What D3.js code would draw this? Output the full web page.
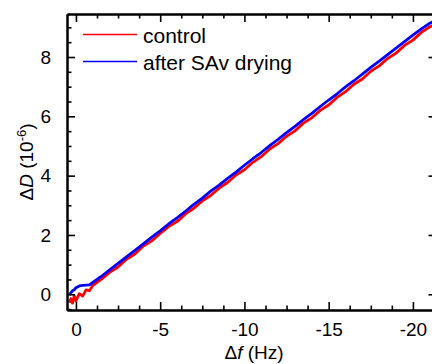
<!DOCTYPE html>
<html>
<head>
<meta charset="utf-8">
<script src="https://cdnjs.cloudflare.com/ajax/libs/d3/7.8.5/d3.min.js"></script>
<style>
    body { margin: 0; background: #fff; }
    svg { display: block; font-family: "Liberation Sans", Arial, sans-serif; }
</style>
</head>
<body>
<div id="chart"></div>
<script>

// control run (red)
var controlF = [0.4, 0.3, 0.2, 0.1, 0, -0.2, -0.4, -0.6, -0.8, -1.0, -1.5, -2, -2.5, -3, -3.5, -4, -4.5, -5, -5.5, -6, -6.5, -7, -7.5, -8, -8.5, -9, -9.5, -10, -10.5, -11, -11.5, -12, -12.5, -13, -13.5, -14, -14.5, -15, -15.5, -16, -16.5, -17, -17.5, -18, -18.5, -19, -19.5, -20, -20.5, -21, -21.3];
var controlD = [-0.28, -0.15, -0.30, -0.05, -0.22, 0.02, -0.06, 0.15, 0.12, 0.30, 0.50, 0.74, 0.92, 1.18, 1.36, 1.63, 1.80, 2.05, 2.28, 2.45, 2.71, 2.90, 3.15, 3.33, 3.58, 3.77, 4.02, 4.20, 4.45, 4.64, 4.90, 5.08, 5.33, 5.51, 5.77, 5.95, 6.20, 6.38, 6.64, 6.83, 7.08, 7.26, 7.52, 7.70, 7.95, 8.13, 8.39, 8.57, 8.83, 9.02, 9.10];

// after SAv drying (blue)
var dryF = [0.4, 0.3, 0.2, 0.1, 0, -0.2, -0.4, -0.6, -0.8, -1.0, -1.5, -2, -2.5, -3, -3.5, -4, -4.5, -5, -5.5, -6, -6.5, -7, -7.5, -8, -8.5, -9, -9.5, -10, -10.5, -11, -11.5, -12, -12.5, -13, -13.5, -14, -14.5, -15, -15.5, -16, -16.5, -17, -17.5, -18, -18.5, -19, -19.5, -20, -20.5, -21, -21.3];
var dryD = [-0.02, 0.05, 0.12, 0.15, 0.22, 0.28, 0.30, 0.31, 0.32, 0.40, 0.60, 0.82, 1.04, 1.26, 1.48, 1.70, 1.93, 2.14, 2.37, 2.58, 2.80, 3.03, 3.24, 3.48, 3.68, 3.91, 4.12, 4.35, 4.57, 4.78, 5.01, 5.22, 5.45, 5.66, 5.89, 6.10, 6.33, 6.55, 6.76, 6.99, 7.20, 7.42, 7.65, 7.86, 8.08, 8.30, 8.52, 8.74, 8.95, 9.14, 9.22];

var seriesNames = ["control", "after SAv drying"];
var seriesColors = ["#ff0000", "#0000ff"];

var xTicks = [0, -5, -10, -15, -20];
var yTicks = [0, 2, 4, 6, 8];

var width = 432, height = 364;
var margin = {top: 14, right: -4.5, bottom: 54, left: 67};

var svg = d3.select("#chart").append("svg")
    .attr("width", width)
    .attr("height", height);

var x = d3.scaleLinear()
    .domain([0.53, -21.4])
    .range([margin.left, width - margin.right]);

var y = d3.scaleLinear()
    .domain([-0.53, 9.45])
    .range([height - margin.bottom, margin.top]);

// minor ticks between the labelled ones
var xMinor = d3.range(0, -21.5, -1.25).filter(function(v) { return xTicks.indexOf(v) < 0; });
var yMinor = d3.range(-0.5, 9.5, 0.5).filter(function(v) { return yTicks.indexOf(v) < 0; });

var plotH = y.range()[0] - y.range()[1];

// plain hyphen for negatives, like the original
var fmt = function(d) { return String(d); };

// data lines
var line = d3.line()
    .x(function(d) { return x(d[0]); })
    .y(function(d) { return y(d[1]); });

var series = [
    d3.zip(controlF, controlD),
    d3.zip(dryF, dryD)
];

svg.append("g")
    .selectAll("path")
    .data(series)
    .enter().append("path")
        .attr("d", line)
        .attr("fill", "none")
        .attr("stroke", function(d, i) { return seriesColors[i]; })
        .attr("stroke-width", 2.8)
        .attr("stroke-linejoin", "round");

function styleAxis(g) {
    g.select(".domain").attr("stroke-width", 2);
    g.selectAll(".tick line").attr("stroke-width", 1.6);
    g.selectAll(".tick text").attr("font-size", 19).attr("fill", "#000");
}

// bottom axis
svg.append("g")
    .attr("transform", "translate(0," + y.range()[0] + ")")
    .call(d3.axisBottom(x).tickValues(xTicks).tickSize(-8).tickSizeOuter(0).tickPadding(13).tickFormat(fmt))
    .call(styleAxis);
svg.append("g")
    .attr("transform", "translate(0," + y.range()[0] + ")")
    .call(d3.axisBottom(x).tickValues(xMinor).tickSize(-4.5).tickSizeOuter(0).tickFormat(""))
    .call(styleAxis);

// top axis (ticks only)
svg.append("g")
    .attr("transform", "translate(0," + y.range()[1] + ")")
    .call(d3.axisTop(x).tickValues(xTicks).tickSize(-8).tickSizeOuter(0).tickFormat(""))
    .call(styleAxis);
svg.append("g")
    .attr("transform", "translate(0," + y.range()[1] + ")")
    .call(d3.axisTop(x).tickValues(xMinor).tickSize(-4.5).tickSizeOuter(0).tickFormat(""))
    .call(styleAxis);

// left axis
svg.append("g")
    .attr("transform", "translate(" + x.range()[0] + ",0)")
    .call(d3.axisLeft(y).tickValues(yTicks).tickSize(-8).tickSizeOuter(0).tickPadding(16).tickFormat(fmt))
    .call(styleAxis);
svg.append("g")
    .attr("transform", "translate(" + x.range()[0] + ",0)")
    .call(d3.axisLeft(y).tickValues(yMinor).tickSize(-4.5).tickSizeOuter(0).tickFormat(""))
    .call(styleAxis);

// right axis (mostly off the edge of the picture)
svg.append("g")
    .attr("transform", "translate(" + x.range()[1] + ",0)")
    .call(d3.axisRight(y).tickValues(yTicks).tickSize(-8).tickSizeOuter(0).tickFormat(""))
    .call(styleAxis);
svg.append("g")
    .attr("transform", "translate(" + x.range()[1] + ",0)")
    .call(d3.axisRight(y).tickValues(yMinor).tickSize(-4.5).tickSizeOuter(0).tickFormat(""))
    .call(styleAxis);

// axis titles
var xTitle = svg.append("text")
    .attr("x", 254)
    .attr("y", 359)
    .attr("text-anchor", "middle")
    .attr("font-size", 19);
xTitle.append("tspan").text("\u0394");
xTitle.append("tspan").attr("font-style", "italic").text("f");
xTitle.append("tspan").text(" (Hz)");

var yTitle = svg.append("text")
    .attr("transform", "translate(33," + (margin.top + plotH / 2) + ") rotate(-90)")
    .attr("text-anchor", "middle")
    .attr("font-size", 19);
yTitle.append("tspan").text("\u0394");
yTitle.append("tspan").attr("font-style", "italic").text("D");
yTitle.append("tspan").text(" (10");
yTitle.append("tspan").attr("font-size", 13).attr("dy", -7).text("-6");
yTitle.append("tspan").attr("dy", 7).text(")");

// legend
var legend = svg.append("g")
    .selectAll("g")
    .data(seriesNames)
    .enter().append("g")
        .attr("transform", function(d, i) { return "translate(83," + (34.5 + i * 27) + ")"; });

legend.append("line")
    .attr("x1", 0)
    .attr("x2", 54)
    .attr("stroke", function(d, i) { return seriesColors[i]; })
    .attr("stroke-width", 1.6);

legend.append("text")
    .attr("x", 60)
    .attr("y", 8)
    .attr("font-size", 21)
    .text(function(d) { return d; });

</script>
</body>
</html>
